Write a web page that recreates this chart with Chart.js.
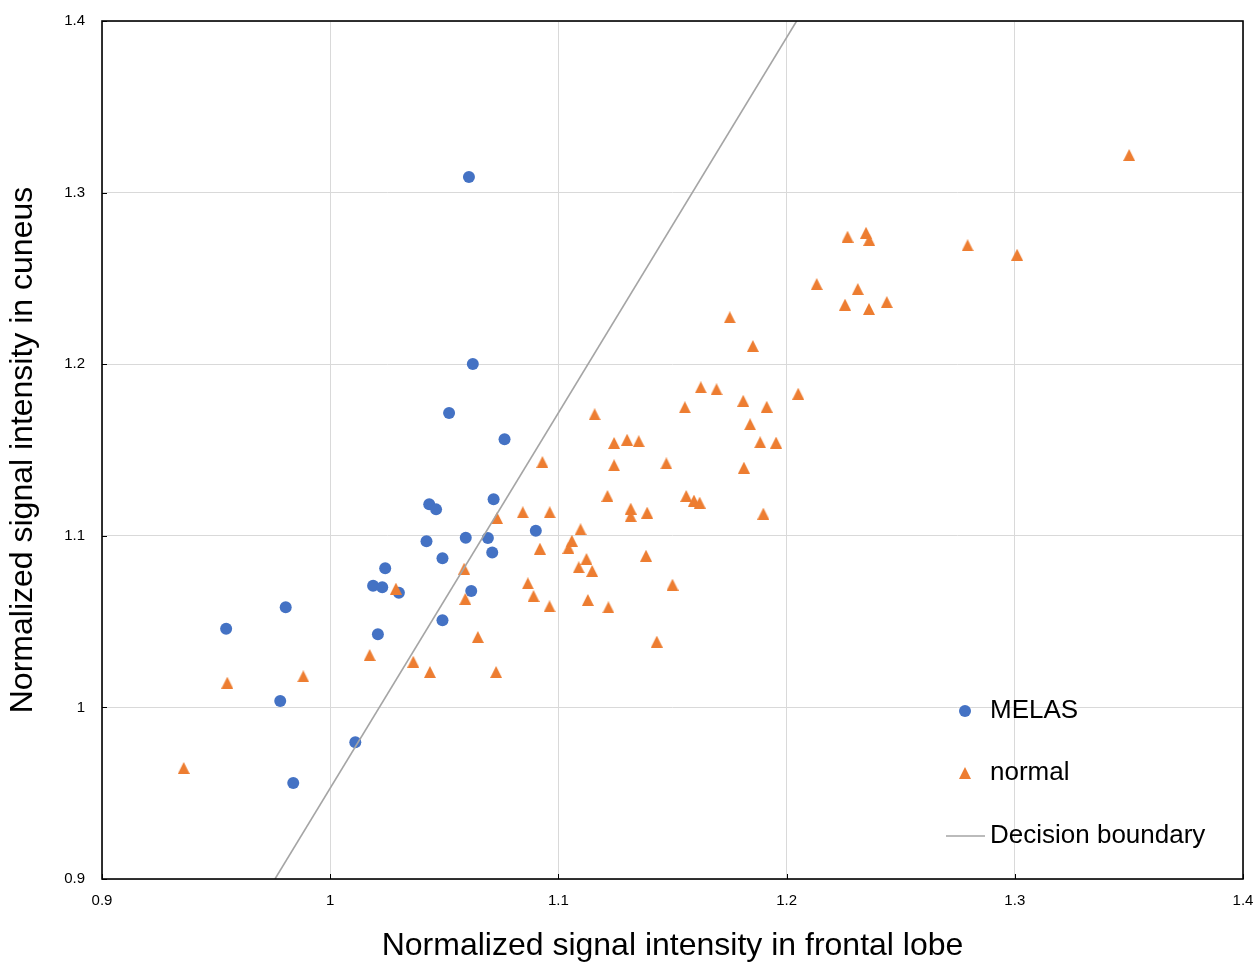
<!DOCTYPE html>
<html>
<head>
<meta charset="utf-8">
<script src="https://cdn.jsdelivr.net/npm/chart.js@4/dist/chart.umd.min.js"></script>
<style>
  html, body { margin: 0; padding: 0; background: #fff; }
  #wrap { width: 1257px; height: 962px; }
</style>
</head>
<body>
<div id="wrap"><canvas id="scatter"></canvas></div>
<script>
const melasX = [1.0608, 1.0625, 1.0521, 1.0764, 1.0716, 1.0434, 1.0464, 1.0901, 1.0422, 1.0594, 1.0691, 1.0710, 1.0492, 1.0241, 1.0188, 1.0228, 1.0301, 1.0618, 1.0492, 0.9805, 0.9544, 1.0209, 0.9781, 1.0110, 0.9838];
const melasY = [1.3091, 1.2001, 1.1716, 1.1562, 1.1213, 1.1184, 1.1154, 1.1030, 1.0968, 1.0989, 1.0987, 1.0902, 1.0869, 1.0811, 1.0709, 1.0700, 1.0668, 1.0678, 1.0508, 1.0583, 1.0459, 1.0426, 1.0037, 0.9797, 0.9559];

const normalX = [1.3501, 1.2267, 1.2348, 1.2362, 1.2793, 1.3010, 1.2132, 1.2312, 1.2256, 1.2361,
  1.2439, 1.1751, 1.1852, 1.1624, 1.1693, 1.1810, 1.1554, 1.1913, 1.2051, 1.1840,
  1.1884, 1.1954, 1.1813, 1.1560, 1.1594, 1.1619, 1.1898, 1.1159, 1.1301, 1.1352,
  1.1244, 1.0930, 1.1473, 1.1244, 1.1215, 1.1317, 1.1317, 1.1389, 1.0844, 1.0962,
  1.0731, 1.1097, 1.1059, 1.1044, 1.0919, 1.1123, 1.1089, 1.1148, 1.1384, 1.0587,
  1.0866, 1.0891, 1.0592, 1.0961, 1.1129, 1.1219, 1.1500, 1.0647, 1.1431, 1.0727,
  1.0288, 1.0173, 1.0364, 1.0437, 0.9882, 0.9549, 0.9358];
const normalY = [1.3219, 1.2743, 1.2766, 1.2724, 1.2693, 1.2638, 1.2467, 1.2438, 1.2347, 1.2322,
  1.2362, 1.2273, 1.2106, 1.1865, 1.1854, 1.1787, 1.1749, 1.1752, 1.1828, 1.1650,
  1.1545, 1.1543, 1.1397, 1.1232, 1.1205, 1.1193, 1.1129, 1.1708, 1.1560, 1.1551,
  1.1541, 1.1430, 1.1422, 1.1411, 1.1232, 1.1158, 1.1115, 1.1135, 1.1137, 1.1137,
  1.1104, 1.1038, 1.0971, 1.0929, 1.0925, 1.0865, 1.0816, 1.0795, 1.0884, 1.0808,
  1.0723, 1.0649, 1.0632, 1.0589, 1.0626, 1.0583, 1.0715, 1.0410, 1.0383, 1.0206,
  1.0692, 1.0305, 1.0266, 1.0206, 1.0181, 1.0144, 0.9647];

const boundaryX = [0.9758, 1.2044];
const boundaryY = [0.9, 1.4];

const tickValues = [0.9, 1, 1.1, 1.2, 1.3, 1.4];
const tickLabels = ['0.9', '1', '1.1', '1.2', '1.3', '1.4'];
const seriesNames = ['MELAS', 'normal', 'Decision boundary'];

const FONT = "'Liberation Sans', Arial, sans-serif";
const BLUE = '#4472c4';
const ORANGE = '#ed7d31';
const LINE_GRAY = '#a5a5a5';

const toPoints = (xs, ys) => xs.map((x, i) => ({ x, y: ys[i] }));

// Excel-like triangle marker, a bit taller than equilateral
function makeTriangle(size, color) {
  const c = document.createElement('canvas');
  c.width = size;
  c.height = size;
  const g = c.getContext('2d');
  g.fillStyle = color;
  g.beginPath();
  g.moveTo(size / 2, 0);
  g.lineTo(size, size);
  g.lineTo(0, size);
  g.closePath();
  g.fill();
  return c;
}
const triangleMarker = makeTriangle(12, ORANGE);

// frame round the plot plus the small inward tick marks
const framePlugin = {
  id: 'frame',
  afterDatasetsDraw(chart) {
    const { ctx, chartArea: a, scales } = chart;
    ctx.save();
    ctx.strokeStyle = '#000';
    ctx.lineWidth = 1;
    ctx.beginPath();
    tickValues.forEach(v => {
      const px = Math.round(scales.x.getPixelForValue(v)) + 0.5;
      ctx.moveTo(px, a.bottom);
      ctx.lineTo(px, a.bottom - 5);
      const py = Math.round(scales.y.getPixelForValue(v)) + 0.5;
      ctx.moveTo(a.left, py);
      ctx.lineTo(a.left + 5, py);
    });
    ctx.stroke();
    ctx.lineWidth = 1.6;
    ctx.strokeRect(a.left, a.top, a.right - a.left, a.bottom - a.top);
    ctx.restore();
  }
};

// legend drawn inside the plot, bottom right
const legendPlugin = {
  id: 'insideLegend',
  afterDraw(chart) {
    const { ctx, chartArea: a } = chart;
    const rows = [a.bottom - 168, a.bottom - 106, a.bottom - 43];
    const mx = a.right - 278;
    ctx.save();
    ctx.font = '26px ' + FONT;
    ctx.textBaseline = 'middle';
    seriesNames.forEach((name, i) => {
      const y = rows[i];
      if (i === 0) {
        ctx.fillStyle = BLUE;
        ctx.beginPath();
        ctx.arc(mx, y, 6, 0, Math.PI * 2);
        ctx.fill();
      } else if (i === 1) {
        ctx.drawImage(triangleMarker, mx - 6, y - 6);
      } else {
        ctx.strokeStyle = LINE_GRAY;
        ctx.lineWidth = 1.6;
        ctx.beginPath();
        ctx.moveTo(mx - 19, y);
        ctx.lineTo(mx + 20, y);
        ctx.stroke();
      }
      ctx.fillStyle = '#000';
      ctx.fillText(name, a.right - 253, y);
    });
    ctx.restore();
  }
};

const tickSetup = scale => {
  scale.ticks = tickValues.map(v => ({ value: v }));
};

new Chart(document.getElementById('scatter'), {
  type: 'scatter',
  data: {
    datasets: [
      {
        label: seriesNames[0],
        data: toPoints(melasX, melasY),
        backgroundColor: BLUE,
        borderColor: BLUE,
        borderWidth: 0,
        pointStyle: 'circle',
        pointRadius: 6,
        order: 2
      },
      {
        label: seriesNames[1],
        data: toPoints(normalX, normalY),
        backgroundColor: ORANGE,
        borderColor: ORANGE,
        borderWidth: 0,
        pointStyle: triangleMarker,
        pointRadius: 6,
        order: 1
      },
      {
        label: seriesNames[2],
        data: toPoints(boundaryX, boundaryY),
        showLine: true,
        borderColor: LINE_GRAY,
        borderWidth: 1.6,
        pointRadius: 0,
        fill: false,
        order: 0
      }
    ]
  },
  options: {
    responsive: true,
    maintainAspectRatio: false,
    animation: false,
    events: [],
    layout: { padding: { top: 21, right: 14, left: 0, bottom: 0 } },
    plugins: {
      legend: { display: false },
      tooltip: { enabled: false }
    },
    scales: {
      x: {
        type: 'linear',
        min: 0.9,
        max: 1.4,
        afterBuildTicks: tickSetup,
        afterFit: s => { s.height = 83; s.paddingLeft = 0; s.paddingRight = 0; },
        border: { display: false },
        grid: { color: '#d9d9d9', lineWidth: 1, drawTicks: false },
        ticks: {
          padding: 13,
          color: '#000',
          font: { family: FONT, size: 15 },
          maxRotation: 0,
          callback: (v, i) => tickLabels[i]
        },
        title: {
          display: true,
          text: 'Normalized signal intensity in frontal lobe',
          color: '#000',
          font: { family: FONT, size: 32, lineHeight: 1 },
          padding: { top: 0, bottom: 0 }
        }
      },
      y: {
        type: 'linear',
        min: 0.9,
        max: 1.4,
        afterBuildTicks: tickSetup,
        afterFit: s => { s.width = 102; s.paddingTop = 0; s.paddingBottom = 0; },
        border: { display: false },
        grid: { color: '#d9d9d9', lineWidth: 1, drawTicks: false },
        ticks: {
          padding: 17,
          color: '#000',
          font: { family: FONT, size: 15 },
          callback: (v, i) => tickLabels[i]
        },
        title: {
          display: true,
          text: 'Normalized signal intensity in cuneus',
          color: '#000',
          font: { family: FONT, size: 32, lineHeight: 1 },
          padding: { top: 7, bottom: 0 }
        }
      }
    }
  },
  plugins: [framePlugin, legendPlugin]
});
</script>
</body>
</html>
